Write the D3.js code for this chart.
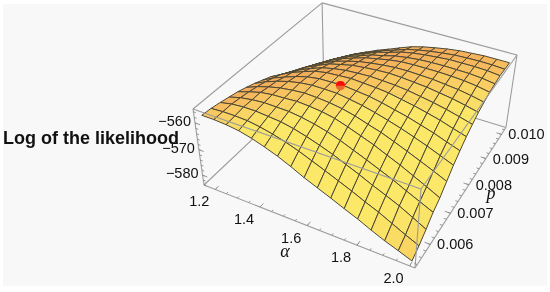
<!DOCTYPE html>
<html>
<head>
<meta charset="utf-8">
<style>
html, body { margin: 0; background: #fff; }
svg { display: block; filter: blur(0.45px); }
text { font-family: "Liberation Sans", Arial, sans-serif; fill: #111; }
</style>
</head>
<body>
<script src="https://d3js.org/d3.v7.min.js"></script>
<script>
const alphaGrid = [1.168, 1.22, 1.272, 1.324, 1.376, 1.428, 1.48, 1.532, 1.584, 1.636, 1.688, 1.74, 1.792, 1.844, 1.896, 1.948, 2.0]
const pGrid = [0.0054, 0.0057, 0.006, 0.0063, 0.0066, 0.0069, 0.0072, 0.0075, 0.0078, 0.0081, 0.0084, 0.0087, 0.009, 0.0093, 0.0096, 0.0099, 0.0102]

// one row per p value, one column per alpha value
const logLik = [
  [-557.6, -557.6, -557.9, -558.5, -559.6, -561.1, -562.8, -564.9, -567.2, -569.2, -571.2, -573.3, -575.3, -577.6, -579.7, -581.5, -583.4],
  [-557.9, -557.6, -557.6, -557.8, -558.5, -559.5, -560.8, -562.4, -564.3, -566.2, -568.2, -570.2, -572.4, -574.4, -576.8, -579.2, -581.4],
  [-558.5, -557.6, -557.2, -557.2, -557.6, -558.0, -558.9, -560.2, -561.7, -563.4, -565.4, -567.4, -569.6, -571.6, -573.7, -576.2, -578.8],
  [-559.2, -558.0, -557.3, -556.9, -557.0, -557.1, -557.7, -558.6, -559.8, -561.4, -563.3, -565.2, -567.2, -569.2, -571.5, -573.7, -575.9],
  [-559.9, -558.5, -557.3, -556.7, -556.5, -556.2, -556.5, -557.0, -557.9, -559.4, -561.1, -562.8, -564.9, -566.9, -569.2, -571.5, -573.9],
  [-560.9, -559.2, -557.9, -556.9, -556.3, -555.9, -556.1, -556.5, -557.2, -558.3, -559.8, -561.2, -563.0, -564.9, -566.9, -568.9, -571.0],
  [-562.0, -560.0, -558.4, -557.1, -556.2, -555.7, -555.7, -555.8, -556.5, -557.3, -558.4, -559.7, -561.1, -562.7, -564.4, -566.3, -568.2],
  [-563.3, -561.1, -559.4, -557.8, -556.6, -555.9, -555.8, -555.7, -556.2, -556.7, -557.6, -558.7, -559.8, -561.2, -562.6, -564.3, -565.9],
  [-564.6, -562.3, -560.2, -558.5, -557.0, -556.2, -555.9, -555.6, -555.9, -556.2, -556.7, -557.6, -558.5, -559.6, -560.8, -562.3, -563.7],
  [-566.5, -564.0, -561.7, -559.8, -558.2, -557.2, -556.5, -556.2, -556.0, -556.2, -556.5, -557.0, -557.8, -558.6, -559.6, -560.8, -562.1],
  [-568.3, -565.6, -563.1, -561.1, -559.2, -558.1, -557.1, -556.6, -556.2, -556.0, -556.2, -556.6, -557.0, -557.7, -558.4, -559.4, -560.5],
  [-570.1, -567.2, -564.7, -562.5, -560.6, -559.3, -558.1, -557.4, -556.8, -556.4, -556.3, -556.5, -556.7, -557.2, -557.7, -558.5, -559.5],
  [-571.8, -568.9, -566.3, -564.0, -562.0, -560.5, -559.1, -558.2, -557.3, -556.7, -556.5, -556.5, -556.5, -556.7, -557.0, -557.6, -558.5],
  [-573.5, -570.6, -568.0, -565.6, -563.6, -562.0, -560.4, -559.4, -558.2, -557.5, -557.0, -556.8, -556.7, -556.8, -556.9, -557.3, -558.0],
  [-575.1, -572.3, -569.7, -567.3, -565.2, -563.5, -561.7, -560.5, -559.1, -558.2, -557.6, -557.2, -556.8, -556.8, -556.8, -557.0, -557.5],
  [-576.7, -573.9, -571.5, -569.1, -567.0, -565.2, -563.4, -562.0, -560.4, -559.4, -558.6, -558.0, -557.5, -557.3, -557.2, -557.3, -557.6],
  [-578.2, -575.6, -573.3, -570.9, -568.9, -566.9, -565.2, -563.4, -561.7, -560.5, -559.6, -558.8, -558.2, -557.9, -557.6, -557.6, -557.6]
]

const alphaTicks = [1.2, 1.4, 1.6, 1.8, 2.0]
const alphaMinor = d3.range(1.15, 2.01, 0.05)
const pTicks = [0.006, 0.007, 0.008, 0.009, 0.01]
const pMinor = d3.range(0.0054, 0.0103, 0.0002)
const zTicks = [-560, -570, -580]
const zMinor = d3.range(-584, -555, 2)
const peak = { alpha: 1.52, p: 0.00747, z: -555.7 }

const width = 550
const height = 292

const xScale = d3.scaleLinear().domain([1.148, 2.02]).range([0, 1])
const yScale = d3.scaleLinear().domain([0.0053, 0.0103]).range([0, 1])
const zScale = d3.scaleLinear().domain([-584, -555]).range([0, 1])

// perspective camera fitted to the corners of the box
function cube (x, y, z) {
    const w = -0.11053 * x + 0.21218 * y - 0.07165 * z + 1
    return [
        (165.13 * x + 188.21 * y - 24.83 * z + 204) / w,
        (53.38 * x - 97.92 * y - 83.81 * z + 185) / w,
        w
    ]
}

function project (a, p, z) {
    return cube(xScale(a), yScale(p), zScale(z))
}

const svg = d3.select('body').append('svg')
    .attr('width', width)
    .attr('height', height)

svg.append('rect')
    .attr('x', 3).attr('y', 4)
    .attr('width', 544).attr('height', 282)
    .attr('fill', '#f8f8f8')

const lineGen = d3.line()

function boxEdge (g, from, to) {
    g.append('path')
        .attr('d', lineGen([cube(...from), cube(...to)]))
        .attr('fill', 'none')
        .attr('stroke', '#9c9c9c')
        .attr('stroke-width', 1.1)
}

// box edges behind the surface
const backEdges = [
    [[0, 1, 1], [0, 1, 0]],
    [[0, 1, 0], [0, 0, 0]],
    [[0, 1, 0], [1, 1, 0]]
]
const gBack = svg.append('g')
backEdges.forEach(e => boxEdge(gBack, e[0], e[1]))

// surface cells, far ones first
const cells = []
d3.range(pGrid.length - 1).forEach(j => {
    d3.range(alphaGrid.length - 1).forEach(i => {
        const pts = [
            project(alphaGrid[i], pGrid[j], logLik[j][i]),
            project(alphaGrid[i + 1], pGrid[j], logLik[j][i + 1]),
            project(alphaGrid[i + 1], pGrid[j + 1], logLik[j + 1][i + 1]),
            project(alphaGrid[i], pGrid[j + 1], logLik[j + 1][i])
        ]
        cells.push({
            pts,
            depth: d3.mean(pts, d => d[2]),
            area: Math.abs(d3.polygonArea(pts.map(d => [d[0], d[1]]))),
            low: d3.mean([logLik[j][i], logLik[j][i + 1], logLik[j + 1][i], logLik[j + 1][i + 1]])
        })
    })
})
cells.sort((a, b) => b.depth - a.depth)

const colorScale = d3.scaleLinear()
    .domain([60, 135, 190])
    .range(['#f3a64c', '#f8c956', '#fbe55b'])
    .clamp(true)

// the lowest corner of the surface turns a little orange again
const lowScale = d3.scaleLinear()
    .domain([-583, -575])
    .range(['#f6cf52', '#fbe55b'])
    .clamp(true)

function cellColor (d) {
    return d.low < -575 ? lowScale(d.low) : colorScale(d.area)
}

svg.append('g').selectAll('path')
    .data(cells)
    .enter().append('path')
        .attr('d', d => lineGen(d.pts.map(q => [q[0], q[1]])) + 'Z')
        .attr('fill', cellColor)
        .attr('fill-opacity', 0.92)
        .attr('stroke', '#4d4835')
        .attr('stroke-width', 1)
        .attr('stroke-linejoin', 'round')

// red point, half sunk in the surface
const peakAt = project(peak.alpha, peak.p, peak.z)
svg.append('circle')
    .attr('cx', peakAt[0]).attr('cy', peakAt[1])
    .attr('r', 4.6)
    .attr('fill', '#ea6a2e')
svg.append('path')
    .attr('transform', `translate(${peakAt[0]}, ${peakAt[1]})`)
    .attr('d', d3.arc()({ innerRadius: 0, outerRadius: 4.6, startAngle: -Math.PI / 2, endAngle: Math.PI / 2 }))
    .attr('fill', '#fb0a0a')

// box edges in front of the surface
const frontEdges = [
    [[0, 0, 0], [1, 0, 0]],
    [[1, 0, 0], [1, 1, 0]],
    [[0, 0, 0], [0, 0, 1]],
    [[1, 0, 0], [1, 0, 1]],
    [[1, 1, 0], [1, 1, 1]],
    [[0, 0, 1], [1, 0, 1]],
    [[1, 0, 1], [1, 1, 1]],
    [[1, 1, 1], [0, 1, 1]],
    [[0, 1, 1], [0, 0, 1]]
]
const gFront = svg.append('g')
frontEdges.forEach(e => boxEdge(gFront, e[0], e[1]))

function tick (g, a, b) {
    g.append('path')
        .attr('d', lineGen([a.slice(0, 2), b.slice(0, 2)]))
        .attr('stroke', '#8c8c8c')
        .attr('stroke-width', 0.9)
}

const gTicks = svg.append('g')
alphaMinor.forEach(v => tick(gTicks, cube(xScale(v), 0, 0), cube(xScale(v), 0.012, 0)))
alphaTicks.forEach(v => tick(gTicks, cube(xScale(v), 0, 0), cube(xScale(v), 0.025, 0)))
pMinor.forEach(v => tick(gTicks, cube(1, yScale(v), 0), cube(0.988, yScale(v), 0)))
pTicks.forEach(v => tick(gTicks, cube(1, yScale(v), 0), cube(0.975, yScale(v), 0)))
zMinor.forEach(v => tick(gTicks, cube(0, 0, zScale(v)), cube(0.012, 0, zScale(v))))
zTicks.forEach(v => tick(gTicks, cube(0, 0, zScale(v)), cube(0.025, 0, zScale(v))))

function label (text, x, y, anchor) {
    return svg.append('text')
        .attr('x', x)
        .attr('y', y)
        .attr('text-anchor', anchor)
        .attr('font-size', 14.5)
        .text(text)
}

alphaTicks.forEach(v => {
    const at = cube(xScale(v), 0, 0)
    label(d3.format('.1f')(v), at[0] - 16, at[1] + 17, 'middle')
})
pTicks.forEach(v => {
    const at = cube(1, yScale(v), 0)
    label(d3.format('.3f')(v), at[0] + 25, at[1] + 5, 'middle')
})
zTicks.forEach(v => {
    const at = cube(0, 0, zScale(v))
    label(String(v).replace('-', '\u2212'), at[0] - 4, at[1] + 3, 'end')
})

svg.append('text')
    .attr('x', 3).attr('y', 144)
    .attr('font-size', 18)
    .attr('font-weight', 'bold')
    .text('Log of the likelihood')

svg.append('text')
    .attr('x', 285).attr('y', 257)
    .attr('text-anchor', 'middle')
    .attr('font-size', 18)
    .attr('font-style', 'italic')
    .style('font-family', '"Liberation Serif", serif')
    .text('\u03b1')

svg.append('text')
    .attr('x', 491).attr('y', 199)
    .attr('text-anchor', 'middle')
    .attr('font-size', 18)
    .attr('font-style', 'italic')
    .style('font-family', '"Liberation Serif", serif')
    .text('p')
</script>
</body>
</html>
